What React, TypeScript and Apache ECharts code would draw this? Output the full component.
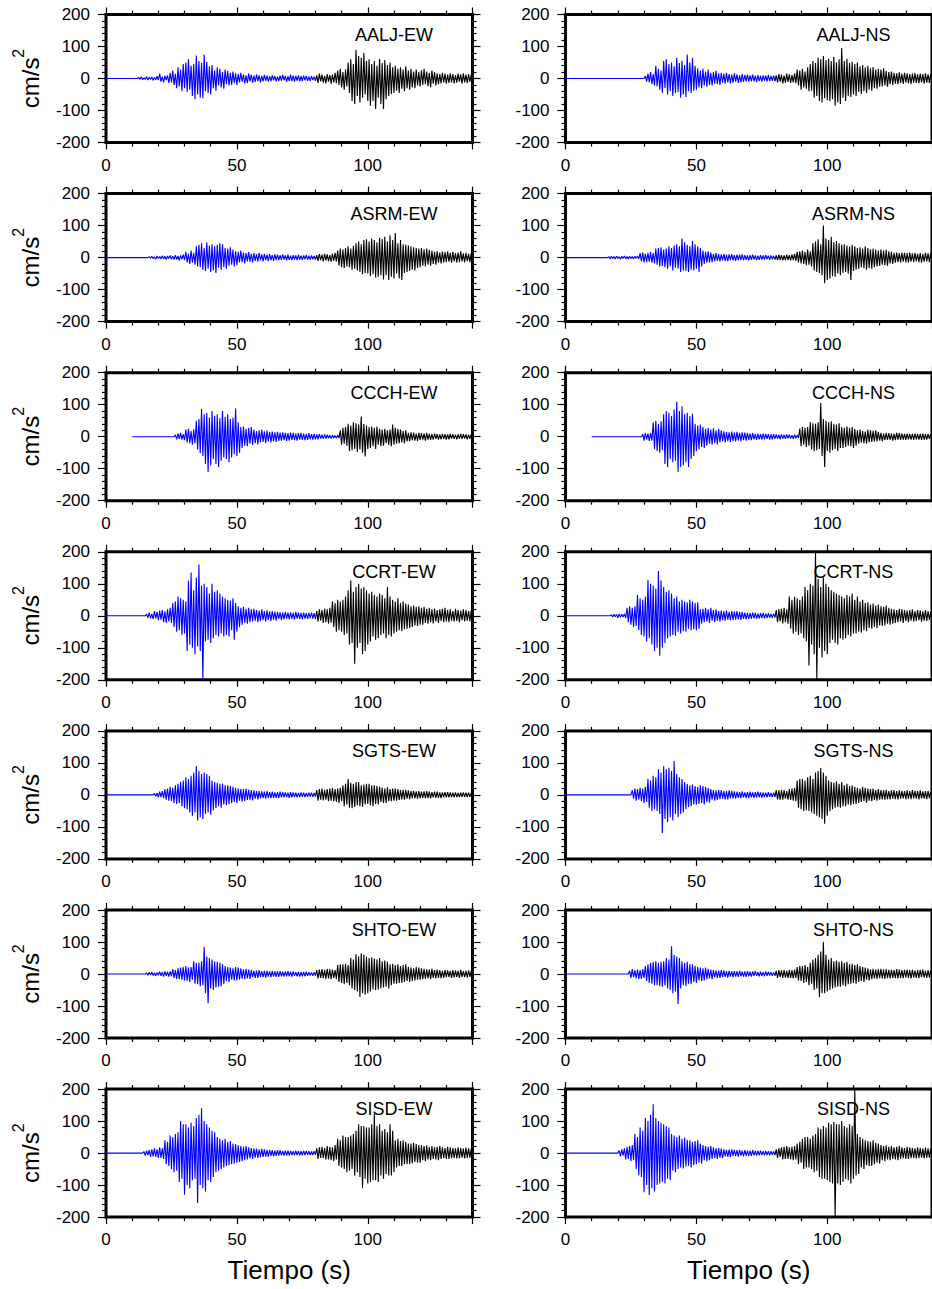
import React, { useEffect, useRef } from "react";
import * as echarts from "echarts";

// ---------------- data ----------------
const stations = ["AALJ", "ASRM", "CCCH", "CCRT", "SGTS", "SHTO", "SISD"];
const components = ["EW", "NS"];
const xTicks = [0, 50, 100];
const yTicks = [-200, -100, 0, 100, 200];
const sampleStep = 0.5; // seconds between successive peak values

// per panel, row-major (EW, NS)
const traceStart = [0, 0, 0, 0, 10, 10, 0, 0, 0, 0, 0, 0, 0, 0];
const blueOnset = [12, 30, 16, 16, 26, 29, 15, 17, 18, 25, 15, 24, 14, 20];
const blackStart = [80, 80, 80, 80, 89, 89, 80, 80, 80, 80, 80, 80, 80, 80];

// peak values (cm/s2), one every half second
const aaljEwBlue = [3, -2, 5, -4, 2, -3, 6, -5, 4, -3, 5, -6, 3, -4, 7, -5,
  15, -10, 6, -12, 8, -5, 10, -14, 18, -12, 25, -20, 15, -30, 35, -25, 28, -40, 45, -30,
  50, -42, 60, -35, 40, -55, 45, -65, 72, -50, 55, -60, 48, -62, 75, -40, 52, -45, 38, -50,
  42, -30, 25, -38, 35, -22, 30, -28, 20, -32, 28, -18, 24, -22, 18, -20, 22, -15, 16, -20,
  14, -12, 18, -10, 12, -15, 10, -14, 15, -9, 12, -13, 9, -11, 13, -8, 10, -12, 8, -9,
  11, -7, 9, -10, 7, -8, 10, -6, 8, -9, 6, -8, 9, -7, 11, -6, 8, -10, 7, -8,
  12, -8, 9, -10, 8, -7, 10, -9, 7, -8, 9, -6, 8, -7, 6, -8, 7, -5, 6, -7];
const aaljEwBlack = [10, -14, 15, -9, 12, -13, 8, -15, 14, -10, 11, -16, 13, -12, 18, -15, 25, -20, 30, -28,
  20, -35, 28, -25, 50, -45, 60, -70, 45, -80, 90, -55, 70, -75, 65, -60, 80, -50, 55, -70,
  60, -85, 45, -70, 55, -95, 40, -60, 62, -80, 48, -95, 58, -65, 42, -55, 50, -48, 35, -45,
  40, -38, 30, -45, 35, -32, 28, -40, 38, -30, 25, -35, 30, -28, 22, -30, 28, -22, 20, -25,
  26, -20, 30, -18, 22, -24, 18, -28, 25, -16, 20, -22, 16, -18, 14, -15, 18, -12, 15, -16,
  12, -14, 16, -12, 14, -15, 11, -13, 15, -10, 13, -16, 16, -12, 12, -14, 14, -11, 12, -15, 12];

const aaljNsBlue = [8, -10, 15, -12, 20, -18, 14, -22, 40, -25, 30, -35, 25, -45, 55, -30, 60, -50, 45, -40,
  50, -55, 38, -45, 65, -42, 48, -60, 55, -50, 42, -58, 75, -40, 50, -45, 65, -38, 40, -35,
  32, -28, 25, -30, 30, -22, 22, -26, 28, -20, 18, -22, 20, -16, 24, -18, 16, -20, 18, -14,
  15, -16, 18, -12, 14, -15, 12, -13, 16, -10, 13, -14, 10, -12, 14, -11, 11, -9, 12, -10,
  10, -8, 12, -9, 9, -11, 11, -8, 8, -10, 10, -7, 9, -9, 11, -8, 8, -7, 9, -8];
const aaljNsBlack = [10, -12, 14, -10, 12, -15, 9, -13, 15, -11, 13, -14, 11, -12, 16, -15, 28, -22, 25, -35,
  30, -28, 22, -32, 35, -40, 45, -38, 55, -60, 48, -55, 65, -70, 60, -75, 70, -62, 58, -68,
  62, -70, 55, -65, 68, -85, 50, -75, 60, -80, 95, -60, 55, -70, 62, -55, 48, -58, 52, -50,
  45, -55, 50, -42, 38, -48, 42, -40, 35, -45, 40, -35, 32, -38, 36, -30, 28, -32, 30, -26,
  28, -25, 32, -22, 24, -26, 20, -18, 22, -20, 18, -16, 16, -18, 19, -14, 15, -17, 18, -13,
  16, -15, 14, -17, 15, -13, 17, -14, 13, -15, 15, -12, 14, -16, 16, -13, 13, -14, 15, -12, 12];

const asrmEwBlue = [3, -2, 4, -3, 2, -5, 5, -3, 3, -4, 6, -4, 4, -6, 5, -3, 7, -5, 4, -6,
  8, -6, 5, -9, 7, -5, 9, -8, 18, -15, 12, -20, 22, -16, 15, -22, 35, -28, 40, -30,
  45, -38, 30, -42, 48, -35, 38, -45, 42, -40, 35, -48, 40, -32, 45, -38, 42, -30, 30, -35,
  28, -25, 32, -22, 25, -28, 20, -24, 18, -15, 22, -14, 16, -18, 14, -12, 17, -13, 12, -15,
  14, -10, 11, -13, 15, -9, 10, -12, 12, -8, 9, -11, 11, -8, 8, -10, 10, -7, 9, -8,
  8, -7, 10, -6, 7, -9, 9, -7, 6, -8, 8, -6, 7, -8, 9, -6, 6, -7, 7, -5,
  8, -6, 6, -7, 7, -5, 5, -6];
const asrmEwBlack = [8, -10, 11, -8, 9, -12, 12, -9, 10, -11, 8, -13, 12, -10, 15, -12, 22, -25, 28, -30,
  25, -32, 30, -28, 35, -30, 28, -38, 37, -35, 45, -40, 50, -45, 42, -52, 55, -48, 57, -50,
  50, -58, 60, -52, 55, -62, 48, -60, 62, -55, 58, -68, 65, -55, 50, -70, 70, -60, 55, -65,
  77, -50, 45, -65, 55, -70, 42, -48, 40, -45, 38, -42, 35, -38, 32, -40, 30, -32, 28, -30,
  30, -25, 26, -28, 28, -22, 24, -25, 22, -20, 18, -22, 20, -16, 16, -18, 19, -15, 17, -14,
  20, -13, 15, -16, 18, -12, 14, -15, 16, -14, 20, -12, 13, -15, 15, -11, 12, -14, 14, -12, 12];

const asrmNsBlue = [3, -4, 4, -3, 3, -4, 4, -3, 3, -5, 4, -3, 5, -4, 3, -4, 4, -3, 3, -4,
  4, -3, 5, -4, 14, -12, 16, -15, 12, -14, 15, -13, 18, -16, 14, -18, 28, -22, 30, -28,
  32, -26, 25, -30, 28, -35, 35, -28, 30, -40, 38, -32, 42, -35, 35, -45, 60, -40, 48, -42,
  40, -45, 35, -38, 52, -40, 42, -35, 35, -45, 30, -28, 22, -20, 18, -16, 20, -15, 16, -14,
  12, -11, 14, -10, 11, -12, 10, -9, 12, -10, 9, -11, 10, -8, 11, -9, 8, -10, 9, -8,
  9, -7, 10, -8, 8, -7, 7, -9, 8, -7, 9, -6, 7, -8, 6, -7, 8, -6, 7, -6,
  8, -5, 6, -7, 7, -5, 5, -6];
const asrmNsBlack = [7, -8, 9, -7, 8, -9, 7, -8, 9, -7, 8, -9, 10, -8, 12, -10, 18, -15, 20, -18,
  22, -20, 18, -24, 25, -22, 20, -28, 45, -40, 50, -45, 57, -48, 42, -55, 100, -80, 60, -70,
  55, -65, 65, -58, 48, -60, 52, -50, 45, -55, 40, -48, 42, -45, 38, -50, 35, -70, 40, -42,
  35, -38, 30, -35, 32, -30, 28, -33, 35, -38, 30, -32, 26, -35, 28, -30, 25, -28, 22, -26,
  25, -22, 22, -24, 24, -25, 20, -18, 18, -20, 15, -16, 16, -14, 14, -15, 16, -13, 15, -15,
  14, -15, 16, -13, 13, -14, 15, -12, 12, -14, 14, -16, 12, -13, 15, -12, 13, -14, 14, -12, 13];

const ccchEwBlue = [6, -8, 10, -7, 12, -9, 8, -11, 22, -18, 25, -20, 18, -25, 22, -20, 50, -40, 55, -52,
  87, -60, 70, -85, 75, -110, 60, -90, 80, -70, 65, -85, 70, -95, 58, -75, 80, -65, 62, -70,
  70, -80, 55, -65, 60, -55, 88, -60, 45, -50, 30, -35, 32, -28, 25, -30, 28, -22, 30, -26,
  22, -20, 18, -24, 20, -18, 22, -16, 17, -20, 19, -15, 15, -18, 16, -14, 14, -16, 15, -13,
  13, -12, 14, -11, 12, -13, 11, -12, 13, -10, 12, -11, 10, -12, 11, -9, 12, -10, 10, -11,
  9, -10, 11, -8, 8, -9, 9, -8, 7, -8, 8, -6, 6, -7, 7, -6, 6, -5, 5, -6,
  5, -4, 4, -5, 5, -4];
const ccchEwBlack = [20, -25, 28, -22, 30, -28, 40, -45, 35, -42, 45, -38, 42, -48, 38, -40, 63, -50, 40, -62,
  35, -38, 30, -35, 32, -30, 28, -38, 32, -25, 25, -30, 22, -28, 25, -20, 20, -26, 22, -30,
  38, -25, 28, -22, 25, -20, 22, -18, 18, -20, 20, -15, 12, -14, 14, -11, 13, -12, 10, -13,
  12, -10, 11, -9, 10, -12, 12, -9, 9, -10, 8, -9, 10, -7, 8, -9, 7, -8, 9, -7,
  8, -9, 7, -8, 9, -6, 8, -7, 6, -8, 7, -6, 9, -7, 8, -6, 7, -8, 6, -7,
  7, -6, 6];

const ccchNsBlue = [8, -12, 12, -9, 10, -13, 11, -12, 45, -38, 50, -45, 40, -50, 48, -42, 70, -85, 80, -95,
  75, -70, 65, -80, 85, -75, 110, -110, 80, -95, 95, -90, 70, -80, 75, -95, 65, -70, 72, -60,
  40, -45, 35, -40, 38, -32, 30, -35, 25, -28, 28, -22, 22, -25, 26, -20, 20, -24, 25, -18,
  20, -15, 17, -18, 15, -14, 14, -16, 16, -13, 13, -15, 15, -12, 12, -14, 14, -11, 13, -12,
  12, -10, 10, -11, 11, -8, 9, -10, 10, -8, 8, -9, 10, -8, 9, -7, 8, -9, 7, -8,
  8, -7, 7, -6, 6, -8, 7, -6, 6, -7, 7, -5, 6, -6, 5, -7, 6, -5, 5, -4];
const ccchNsBlack = [25, -30, 30, -25, 28, -32, 30, -28, 45, -40, 42, -45, 40, -42, 45, -38, 105, -60, 55, -95,
  50, -45, 45, -50, 48, -42, 40, -38, 38, -45, 42, -35, 30, -35, 28, -32, 32, -28, 28, -30,
  30, -35, 25, -28, 20, -22, 22, -18, 18, -20, 16, -22, 22, -18, 20, -16, 18, -15, 20, -14,
  15, -12, 12, -14, 10, -11, 12, -10, 11, -10, 10, -12, 9, -11, 12, -9, 11, -10, 10, -9,
  9, -10, 10, -8, 8, -9, 9, -10, 10, -8, 8, -9, 9, -10, 10, -9, 8, -9, 9, -7,
  8, -7, 7];

const ccrtEwBlue = [5, -6, 10, -8, 6, -10, 15, -8, 12, -14, 16, -12, 18, -20, 14, -22, 20, -18, 25, -22,
  40, -35, 45, -50, 60, -45, 55, -60, 50, -55, 45, -110, 110, -90, 135, -100, 80, -120, 120, -95,
  160, -110, 95, -200, 100, -80, 90, -75, 70, -85, 100, -70, 75, -60, 80, -65, 70, -55, 60, -65,
  55, -60, 50, -65, 48, -45, 55, -75, 40, -50, 30, -35, 25, -28, 28, -22, 22, -25, 25, -20,
  20, -18, 22, -15, 18, -20, 16, -17, 20, -14, 15, -18, 17, -13, 14, -16, 15, -12, 13, -15,
  12, -10, 11, -13, 10, -11, 12, -9, 10, -11, 11, -10, 9, -12, 12, -9, 10, -10, 9, -11,
  10, -9, 8, -10, 9, -8, 10, -9, 8, -10];
const ccrtEwBlack = [15, -18, 20, -15, 18, -22, 22, -20, 20, -25, 25, -22, 45, -35, 40, -50, 50, -45, 45, -50,
  50, -60, 60, -55, 80, -90, 110, -85, 75, -150, 90, -100, 100, -85, 85, -120, 90, -110, 80, -90,
  70, -80, 75, -65, 65, -75, 60, -70, 70, -60, 65, -55, 55, -70, 90, -60, 60, -65, 50, -55,
  45, -50, 55, -45, 40, -48, 45, -42, 38, -40, 35, -38, 30, -35, 32, -30, 28, -32, 30, -28,
  25, -28, 28, -22, 22, -25, 25, -20, 20, -24, 22, -18, 18, -22, 20, -16, 22, -20, 25, -18,
  18, -20, 20, -15, 15, -18, 22, -16, 18, -20, 16, -14, 20, -18, 18, -15, 15, -17, 16, -12, 12];

const ccrtNsBlue = [3, -4, 5, -3, 4, -6, 6, -5, 5, -4, 6, -7, 25, -20, 30, -28, 25, -35, 30, -32,
  65, -45, 55, -60, 50, -65, 60, -80, 112, -70, 100, -90, 95, -110, 85, -100, 140, -125, 110, -100,
  90, -85, 75, -70, 80, -65, 70, -60, 55, -62, 60, -50, 45, -55, 50, -48, 45, -50, 42, -40,
  50, -45, 45, -42, 40, -45, 42, -40, 20, -25, 22, -20, 25, -18, 20, -22, 25, -15, 18, -20,
  20, -15, 15, -18, 16, -14, 14, -15, 16, -12, 12, -14, 15, -13, 13, -12, 15, -11, 12, -13,
  12, -10, 10, -11, 9, -10, 8, -9, 10, -8, 9, -9, 7, -8, 8, -7, 9, -8, 7, -7,
  8, -6, 6, -7, 7, -5];
const ccrtNsBlack = [18, -20, 20, -18, 22, -24, 25, -20, 20, -25, 60, -40, 50, -55, 60, -50, 55, -60, 50, -55,
  60, -70, 90, -80, 80, -155, 100, -90, 95, -120, 200, -200, 115, -100, 90, -130, 120, -110, 100, -120,
  90, -85, 80, -75, 75, -85, 70, -90, 65, -70, 60, -75, 55, -70, 65, -60, 60, -65, 70, -55,
  50, -55, 60, -50, 45, -52, 50, -45, 40, -48, 42, -38, 35, -40, 38, -35, 32, -38, 35, -30,
  30, -32, 28, -30, 32, -25, 25, -28, 22, -25, 20, -22, 18, -20, 22, -18, 20, -22, 18, -16,
  16, -20, 18, -15, 20, -18, 15, -16, 18, -14, 16, -18, 14, -15, 18, -16, 15, -13, 12, -14, 12];

const sgtsEwBlue = [5, -4, 6, -8, 10, -7, 12, -10, 18, -15, 20, -18, 25, -20, 22, -25, 30, -28, 35, -25,
  40, -35, 45, -42, 55, -45, 50, -55, 60, -65, 70, -55, 90, -80, 75, -70, 65, -75, 70, -60,
  65, -55, 60, -62, 45, -48, 40, -42, 38, -35, 35, -40, 35, -30, 30, -32, 30, -28, 28, -26,
  25, -22, 22, -25, 20, -18, 18, -21, 18, -20, 20, -16, 16, -15, 15, -17, 14, -12, 12, -14,
  12, -11, 11, -10, 10, -12, 12, -9, 9, -10, 10, -9, 8, -9, 9, -10, 10, -8, 9, -8,
  8, -7, 7, -9, 9, -8, 8, -7, 7, -8, 6, -7, 8, -6, 7, -7, 6, -6, 7, -5,
  7, -6, 6, -5];
const sgtsEwBlack = [15, -18, 18, -15, 20, -17, 16, -15, 18, -20, 20, -18, 22, -20, 18, -22, 20, -25, 22, -20,
  30, -35, 35, -30, 50, -40, 38, -42, 35, -38, 40, -32, 40, -35, 30, -38, 32, -30, 35, -28,
  35, -32, 30, -35, 30, -28, 28, -30, 25, -22, 22, -25, 20, -25, 24, -20, 18, -20, 20, -18,
  20, -18, 18, -16, 15, -14, 16, -15, 16, -12, 14, -13, 12, -10, 13, -11, 11, -12, 12, -10,
  10, -9, 11, -10, 12, -10, 10, -11, 9, -8, 10, -9, 10, -9, 8, -10, 8, -7, 9, -8,
  9, -8, 8, -7, 7, -8, 8, -7, 6, -7, 7, -6, 8, -6, 7, -7, 7, -6, 6, -7, 5];

const sgtsNsBlue = [15, -12, 20, -18, 18, -15, 22, -20, 20, -25, 25, -22, 50, -40, 45, -50, 60, -45, 55, -50,
  80, -60, 70, -119, 90, -75, 80, -85, 85, -70, 75, -80, 106, -60, 65, -70, 55, -60, 50, -55,
  40, -45, 35, -38, 30, -35, 32, -30, 28, -30, 25, -28, 30, -25, 28, -30, 25, -22, 22, -24,
  18, -15, 15, -18, 14, -16, 16, -13, 15, -12, 12, -14, 12, -14, 14, -11, 13, -11, 11, -12,
  10, -9, 9, -10, 11, -8, 8, -10, 9, -10, 10, -8, 8, -9, 9, -8, 10, -8, 8, -9,
  8, -7, 7, -8, 9, -6, 6, -7, 7, -6];
const sgtsNsBlack = [15, -14, 14, -16, 16, -15, 15, -12, 12, -15, 18, -16, 20, -18, 22, -20, 45, -40, 50, -45,
  50, -50, 45, -48, 55, -50, 60, -55, 50, -60, 70, -65, 75, -70, 84, -75, 70, -90, 60, -65,
  45, -50, 40, -45, 38, -40, 42, -38, 35, -40, 40, -35, 30, -35, 35, -30, 28, -32, 30, -28,
  25, -28, 22, -25, 20, -22, 25, -20, 22, -24, 20, -18, 18, -20, 20, -16, 15, -18, 18, -15,
  15, -14, 14, -15, 16, -13, 12, -14, 14, -12, 15, -13, 12, -14, 14, -12, 13, -11, 12, -13,
  14, -12, 12, -13, 15, -11, 13, -12, 12, -14, 14, -11, 11, -12, 12, -13, 13, -10, 10, -12, 12];

const shtoEwBlue = [3, -4, 5, -3, 6, -5, 4, -6, 5, -4, 7, -6, 6, -8, 8, -6, 7, -8, 8, -7,
  15, -12, 12, -15, 18, -16, 20, -18, 22, -20, 25, -22, 20, -25, 22, -18, 40, -30, 35, -32,
  35, -38, 40, -35, 84, -60, 55, -91, 50, -45, 45, -50, 40, -42, 38, -40, 35, -38, 30, -32,
  25, -22, 22, -25, 20, -18, 18, -20, 22, -20, 20, -18, 18, -15, 15, -16, 16, -14, 14, -15,
  12, -10, 10, -12, 11, -12, 12, -9, 9, -10, 10, -11, 10, -8, 8, -10, 9, -8, 8, -9,
  8, -9, 9, -7, 7, -8, 8, -7, 9, -7, 7, -8, 8, -6, 6, -7, 7, -8, 6, -7,
  6, -7, 7, -6, 6, -5, 5, -6, 6, -5];
const shtoEwBlack = [12, -14, 14, -12, 15, -13, 13, -15, 16, -14, 15, -16, 14, -12, 12, -15, 28, -25, 30, -28,
  30, -32, 32, -28, 28, -35, 50, -45, 45, -50, 62, -55, 55, -72, 65, -60, 60, -65, 55, -60,
  50, -55, 52, -48, 48, -50, 45, -48, 50, -45, 40, -42, 42, -40, 38, -45, 30, -35, 32, -30,
  28, -30, 30, -28, 25, -28, 28, -25, 30, -22, 22, -25, 20, -22, 18, -20, 22, -18, 20, -18,
  18, -16, 16, -15, 15, -14, 14, -16, 16, -12, 12, -14, 14, -12, 12, -13, 10, -12, 12, -10,
  11, -10, 10, -12, 12, -11, 11, -10, 10, -12, 12, -9, 9, -10, 10, -11, 11, -9, 9, -10, 10];

const shtoNsBlue = [10, -12, 15, -10, 12, -14, 14, -15, 12, -15, 15, -12, 25, -22, 30, -28, 35, -30, 38, -35,
  40, -35, 35, -38, 38, -40, 40, -35, 50, -45, 45, -50, 87, -60, 60, -55, 55, -94, 50, -45,
  40, -35, 35, -38, 38, -30, 30, -32, 30, -25, 25, -28, 22, -20, 20, -22, 18, -20, 20, -16,
  16, -14, 14, -16, 12, -11, 11, -12, 10, -12, 12, -10, 11, -9, 9, -11, 10, -8, 8, -10,
  9, -8, 8, -9, 10, -7, 7, -8, 8, -9, 9, -7, 7, -8, 8, -6, 9, -6, 6, -7,
  7, -6, 6, -7, 8, -6, 7, -5, 6, -6, 5, -5];
const shtoNsBlack = [10, -12, 12, -10, 11, -12, 12, -11, 10, -13, 13, -12, 12, -14, 14, -12, 22, -20, 25, -22,
  25, -28, 28, -25, 22, -35, 35, -30, 45, -50, 50, -45, 60, -72, 70, -60, 100, -60, 60, -55,
  45, -50, 50, -45, 40, -42, 42, -40, 38, -40, 40, -36, 35, -38, 38, -32, 30, -30, 32, -28,
  28, -30, 30, -25, 25, -22, 22, -25, 20, -18, 18, -20, 15, -16, 16, -14, 14, -15, 15, -13,
  16, -14, 14, -15, 15, -13, 13, -14, 14, -12, 12, -13, 15, -14, 14, -12, 12, -13, 13, -11,
  14, -12, 12, -14, 13, -11, 11, -12, 12, -13, 13, -10, 14, -11, 10, -12, 12, -11, 11, -10, 10];

const sisdEwBlue = [5, -8, 8, -6, 10, -12, 12, -10, 15, -12, 12, -15, 18, -15, 15, -18, 40, -35, 35, -40,
  55, -50, 50, -60, 60, -55, 65, -90, 100, -80, 90, -130, 90, -100, 80, -110, 95, -85, 85, -80,
  110, -156, 120, -100, 140, -110, 100, -120, 90, -85, 80, -90, 70, -75, 65, -60, 50, -55, 45, -50,
  40, -45, 45, -40, 35, -38, 38, -35, 30, -32, 28, -30, 25, -28, 22, -25, 20, -22, 22, -20,
  18, -16, 16, -18, 15, -14, 14, -15, 12, -13, 13, -12, 12, -11, 10, -12, 10, -9, 9, -10,
  8, -9, 9, -8, 9, -7, 7, -8, 8, -8, 8, -7, 7, -6, 6, -7, 8, -6, 7, -7,
  6, -7, 7, -6, 7, -5, 6, -6, 5, -6, 6, -5];
const sisdEwBlack = [15, -18, 18, -15, 20, -16, 16, -20, 22, -20, 20, -22, 18, -25, 25, -20, 45, -40, 40, -45,
  55, -50, 50, -60, 50, -55, 55, -50, 60, -70, 70, -60, 90, -75, 85, -110, 85, -80, 80, -95,
  80, -90, 90, -85, 122, -85, 85, -90, 90, -70, 70, -80, 75, -65, 65, -70, 90, -70, 70, -60,
  40, -45, 45, -40, 38, -40, 40, -35, 35, -35, 30, -35, 30, -32, 32, -28, 28, -30, 25, -30,
  25, -22, 22, -25, 24, -20, 20, -22, 22, -18, 18, -20, 20, -22, 22, -18, 18, -16, 16, -18,
  20, -18, 18, -16, 16, -15, 15, -17, 18, -16, 16, -14, 14, -17, 17, -15, 15, -14, 14, -12, 12];

const sisdNsBlue = [8, -10, 12, -8, 15, -20, 20, -18, 22, -25, 25, -22, 60, -50, 50, -70, 80, -75, 70, -122,
  110, -100, 100, -131, 120, -110, 153, -120, 110, -100, 100, -95, 95, -90, 90, -95, 85, -80, 80, -85,
  60, -55, 55, -60, 50, -50, 55, -45, 45, -48, 48, -42, 42, -40, 40, -45, 35, -38, 38, -35,
  40, -30, 30, -32, 25, -22, 22, -25, 20, -22, 22, -18, 18, -15, 15, -18, 16, -14, 14, -16,
  12, -10, 10, -12, 11, -12, 12, -9, 10, -9, 9, -11, 10, -8, 8, -10, 9, -8, 8, -9,
  8, -9, 9, -7, 7, -8, 8, -7, 8, -6, 6, -7, 7, -6, 6, -7, 6, -5, 5, -6];
const sisdNsBlack = [12, -15, 15, -12, 18, -20, 20, -18, 22, -18, 18, -20, 20, -22, 22, -20, 30, -35, 35, -30,
  45, -50, 50, -45, 50, -45, 45, -50, 55, -60, 60, -55, 80, -75, 75, -80, 85, -80, 80, -85,
  95, -90, 90, -95, 97, -200, 90, -95, 90, -100, 100, -90, 85, -80, 80, -85, 90, -95, 85, -80,
  200, -70, 60, -65, 50, -45, 45, -50, 40, -38, 38, -40, 35, -40, 40, -35, 32, -30, 30, -32,
  25, -22, 22, -25, 24, -20, 20, -22, 22, -18, 18, -20, 20, -22, 22, -18, 18, -16, 16, -18,
  20, -18, 18, -16, 16, -15, 15, -17, 18, -16, 16, -14, 14, -17, 17, -15, 15, -14, 14, -12, 12];

const blueTraces = [aaljEwBlue, aaljNsBlue, asrmEwBlue, asrmNsBlue, ccchEwBlue, ccchNsBlue,
  ccrtEwBlue, ccrtNsBlue, sgtsEwBlue, sgtsNsBlue, shtoEwBlue, shtoNsBlue, sisdEwBlue, sisdNsBlue];
const blackTraces = [aaljEwBlack, aaljNsBlack, asrmEwBlack, asrmNsBlack, ccchEwBlack, ccchNsBlack,
  ccrtEwBlack, ccrtNsBlack, sgtsEwBlack, sgtsNsBlack, shtoEwBlack, shtoNsBlack, sisdEwBlack, sisdNsBlack];

// ---------------- layout ----------------
const W = 932;
const H = 1289;
const colLeft = [106, 565.5];
const plotW = 366.5;
const plotH = 128;
const rowTop0 = 14.5;
const rowStep = 179.1;
const xMax = 140;
const titleX = 110;
const FONT = '"Liberation Sans", Arial, Helvetica, sans-serif';

export default function App() {
  const ref = useRef<HTMLDivElement>(null);
  useEffect(() => {
    if (!ref.current) return;
    const chart = echarts.init(ref.current, null, { renderer: "svg" });
    const grid: any[] = [];
    const xAxis: any[] = [];
    const yAxis: any[] = [];
    const series: any[] = [];
    const graphic: any[] = [];

    for (let r = 0; r < stations.length; r++) {
      for (let c = 0; c < components.length; c++) {
        const g = r * 2 + c;
        const left = colLeft[c];
        const top = rowTop0 + r * rowStep;
        grid.push({
          left, top, width: plotW, height: plotH,
          show: true, borderColor: "#000", borderWidth: 3,
          backgroundColor: "transparent",
          containLabel: false, outerBoundsMode: "none",
        });
        const tickStyle = { color: "#000", width: 1.2 };
        const xBase = {
          type: "value", gridIndex: g, min: xTicks[0], max: xMax,
          interval: xTicks[1] - xTicks[0],
          axisLine: { show: false, onZero: false },
          axisTick: { show: true, length: 7, lineStyle: tickStyle },
          minorTick: { show: true, splitNumber: 5, length: 4, lineStyle: tickStyle },
          splitLine: { show: false }, minorSplitLine: { show: false },
        };
        xAxis.push({
          ...xBase, position: "bottom",
          axisLabel: {
            show: true, fontSize: 17, color: "#000", fontFamily: FONT, margin: 14,
            showMaxLabel: false,
            formatter: (v: number) => (xTicks.includes(v) ? String(v) : ""),
          },
          name: r === stations.length - 1 ? "Tiempo (s)" : "",
          nameLocation: "middle", nameGap: 40,
          nameTextStyle: { fontSize: 26, color: "#000", fontFamily: FONT },
        });
        xAxis.push({ ...xBase, position: "top", axisLabel: { show: false } });
        const yBase = {
          type: "value", gridIndex: g, min: yTicks[0], max: yTicks[yTicks.length - 1],
          interval: yTicks[1] - yTicks[0],
          axisLine: { show: false, onZero: false },
          axisTick: { show: true, length: 8, lineStyle: tickStyle },
          minorTick: { show: true, splitNumber: 5, length: 4, lineStyle: tickStyle },
          splitLine: { show: false }, minorSplitLine: { show: false },
        };
        yAxis.push({
          ...yBase, position: "left",
          axisLabel: { show: true, fontSize: 17, color: "#000", fontFamily: FONT, margin: 16 },
          name: c === 0 ? "{a|cm/s}{b|2}" : "",
          nameLocation: "middle", nameGap: 64,
          nameTextStyle: {
            color: "#000", fontFamily: FONT, fontSize: 24,
            rich: {
              a: { fontSize: 24, fontFamily: FONT, color: "#000", lineHeight: 32, verticalAlign: "bottom" },
              b: { fontSize: 16, fontFamily: FONT, color: "#000", lineHeight: 32, verticalAlign: "top" },
            },
          },
        });
        yAxis.push({ ...yBase, position: "right", axisLabel: { show: false } });

        const blue = blueTraces[g];
        const black = blackTraces[g];
        const onset = blueOnset[g];
        const bStart = blackStart[g];
        const blueData: number[][] = [[traceStart[g], 0], [onset, 0]];
        blue.forEach((v, i) => blueData.push([onset + sampleStep * (i + 1), v]));
        const last = blueData[blueData.length - 1];
        const blackData: number[][] = [[last[0], last[1]]];
        black.forEach((v, i) => blackData.push([bStart + sampleStep * (i + 1), v]));

        series.push({
          type: "line", xAxisIndex: 2 * g, yAxisIndex: 2 * g, data: blueData,
          showSymbol: false, symbol: "none", silent: true, clip: true,
          lineStyle: { color: "#0000ff", width: 1.1 }, z: 3,
        });
        series.push({
          type: "line", xAxisIndex: 2 * g, yAxisIndex: 2 * g, data: blackData,
          showSymbol: false, symbol: "none", silent: true, clip: true,
          lineStyle: { color: "#000000", width: 1.1 }, z: 3,
        });

        graphic.push({
          type: "text",
          x: left + (titleX / xMax) * plotW,
          y: top + 20,
          z: 100,
          style: {
            text: `${stations[r]}-${components[c]}`,
            font: `18px ${FONT}`,
            fill: "#000",
            textAlign: "center", textVerticalAlign: "middle",
            align: "center", verticalAlign: "middle",
          },
        });
      }
    }

    chart.setOption({
      animation: false,
      backgroundColor: "#fff",
      grid, xAxis, yAxis, series, graphic,
    });
    return () => chart.dispose();
  }, []);

  return (
    <div
      ref={ref}
      style={{ position: "absolute", left: 0, top: 0, width: W, height: H }}
    />
  );
}
